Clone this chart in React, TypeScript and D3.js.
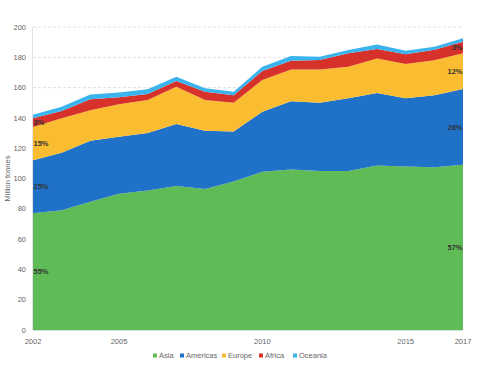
import { useEffect, useRef } from "react";
import * as d3 from "d3";

// values, million tonnes
const years = [2002, 2003, 2004, 2005, 2006, 2007, 2008, 2009, 2010, 2011, 2012, 2013, 2014, 2015, 2016, 2017];
const asia = [77, 79, 84.7, 90, 92, 95, 93, 98, 104.5, 106, 105, 105, 108.5, 108, 107.5, 109];
const americas = [35, 38, 40.3, 37.6, 38, 41, 38.5, 33, 39.5, 45, 45, 48, 48, 45, 47.5, 50];
const europe = [22, 22.7, 20, 21.4, 21.8, 24.5, 20.3, 19, 21, 21, 22, 20.8, 22.7, 22.6, 23, 23.6];
const africa = [5.7, 4.8, 7.3, 4.6, 4, 3.9, 5.5, 5, 6, 5.8, 6.2, 8.8, 6.3, 6.4, 7, 7.7];
const oceania = [2.3, 2.9, 3.2, 3.1, 3.1, 2.8, 2.3, 2.3, 2.8, 3.1, 2.2, 2.2, 3, 2.4, 2, 2.2];

const seriesNames = ["Asia", "Americas", "Europe", "Africa", "Oceania"];
const seriesColors = ["#5fbb56", "#2072c9", "#fabd31", "#d6322b", "#3bb3ec"];
const xTicks = [2002, 2005, 2010, 2015, 2017];
const yTicks = [0, 20, 40, 60, 80, 100, 120, 140, 160, 180, 200];
const leftLabels = ["55%", "25%", "15%", "3%"];
const rightLabels = ["57%", "26%", "12%", "3%"];

const width = 485;
const height = 370;
const font = "'Liberation Sans', Arial, sans-serif";

function App() {
  const svgRef = useRef<SVGSVGElement | null>(null);

  useEffect(() => {
    const svg = d3.select(svgRef.current);
    svg.selectAll("*").remove();

    const xScale = d3.scaleLinear().domain([2002, 2017]).range([33, 463]);
    const yScale = d3.scaleLinear().domain([0, 200]).range([330, 27]);

    const rows = years.map((y, i) => ({
      year: y,
      Asia: asia[i],
      Americas: americas[i],
      Europe: europe[i],
      Africa: africa[i],
      Oceania: oceania[i],
    }));

    const stack = d3.stack<any>().keys(seriesNames);
    const layers = stack(rows);

    // grid
    svg
      .append("g")
      .selectAll("line")
      .data(yTicks.filter((t) => t > 0))
      .join("line")
      .attr("x1", xScale(2002))
      .attr("x2", xScale(2017))
      .attr("y1", (d) => yScale(d))
      .attr("y2", (d) => yScale(d))
      .attr("stroke", "#d9d9d9")
      .attr("stroke-width", 0.8)
      .attr("stroke-dasharray", "3,2");

    const area = d3
      .area<any>()
      .x((d) => xScale(d.data.year))
      .y0((d) => yScale(d[0]))
      .y1((d) => yScale(d[1]));

    svg
      .append("g")
      .selectAll("path")
      .data(layers)
      .join("path")
      .attr("d", (d) => area(d) as string)
      .attr("fill", (d, i) => seriesColors[i]);

    // axis lines
    svg
      .append("line")
      .attr("x1", xScale(2002))
      .attr("x2", xScale(2017))
      .attr("y1", yScale(0) + 0.5)
      .attr("y2", yScale(0) + 0.5)
      .attr("stroke", "#cfe3dc")
      .attr("stroke-width", 1);
    svg
      .append("line")
      .attr("x1", xScale(2002) - 0.5)
      .attr("x2", xScale(2002) - 0.5)
      .attr("y1", yScale(200))
      .attr("y2", yScale(0))
      .attr("stroke", "#e3e3e3")
      .attr("stroke-width", 1);

    // y tick labels
    svg
      .append("g")
      .selectAll("text")
      .data(yTicks)
      .join("text")
      .attr("x", 26)
      .attr("y", (d) => yScale(d))
      .attr("dy", "0.35em")
      .attr("text-anchor", "end")
      .attr("font-family", font)
      .attr("font-size", 7.5)
      .attr("fill", "#666")
      .text((d) => d);

    // x tick labels
    svg
      .append("g")
      .selectAll("text")
      .data(xTicks)
      .join("text")
      .attr("x", (d) => xScale(d))
      .attr("y", 344)
      .attr("text-anchor", "middle")
      .attr("font-family", font)
      .attr("font-size", 7.5)
      .attr("fill", "#666")
      .text((d) => d);

    // y title
    svg
      .append("text")
      .attr("transform", `translate(10, ${yScale(100)}) rotate(-90)`)
      .attr("text-anchor", "middle")
      .attr("font-family", font)
      .attr("font-size", 7.5)
      .attr("fill", "#666")
      .text("Million tonnes");

    // percentage labels at layer midpoints
    const first = 0;
    const last = years.length - 1;
    leftLabels.forEach((lab, i) => {
      const p = layers[i][first];
      svg
        .append("text")
        .attr("x", xScale(years[first]) + 0.5)
        .attr("y", yScale((p[0] + p[1]) / 2))
        .attr("dy", "0.35em")
        .attr("font-family", font)
        .attr("font-size", 7.5)
        .attr("font-weight", "bold")
        .attr("fill", "#333")
        .text(lab);
    });
    rightLabels.forEach((lab, i) => {
      const p = layers[i][last];
      svg
        .append("text")
        .attr("x", xScale(years[last]) - 0.5)
        .attr("y", yScale((p[0] + p[1]) / 2))
        .attr("dy", "0.35em")
        .attr("text-anchor", "end")
        .attr("font-family", font)
        .attr("font-size", 7.5)
        .attr("font-weight", "bold")
        .attr("fill", "#333")
        .text(lab);
    });

    // legend
    const legendX = [153, 180, 222, 259, 293];
    const legend = svg
      .append("g")
      .selectAll("g")
      .data(seriesNames)
      .join("g")
      .attr("transform", (d, i) => `translate(${legendX[i]}, 356)`);
    legend
      .append("rect")
      .attr("x", 0)
      .attr("y", -2.5)
      .attr("width", 4)
      .attr("height", 4)
      .attr("fill", (d, i) => seriesColors[i]);
    legend
      .append("text")
      .attr("x", 6)
      .attr("y", 0)
      .attr("dy", "0.3em")
      .attr("font-family", font)
      .attr("font-size", 7.5)
      .attr("fill", "#666")
      .text((d) => d);
  }, []);

  return (
    <svg
      ref={svgRef}
      width={width}
      height={height}
      style={{ position: "absolute", left: 0, top: 0, background: "#fff" }}
    ></svg>
  );
}

export default App;
